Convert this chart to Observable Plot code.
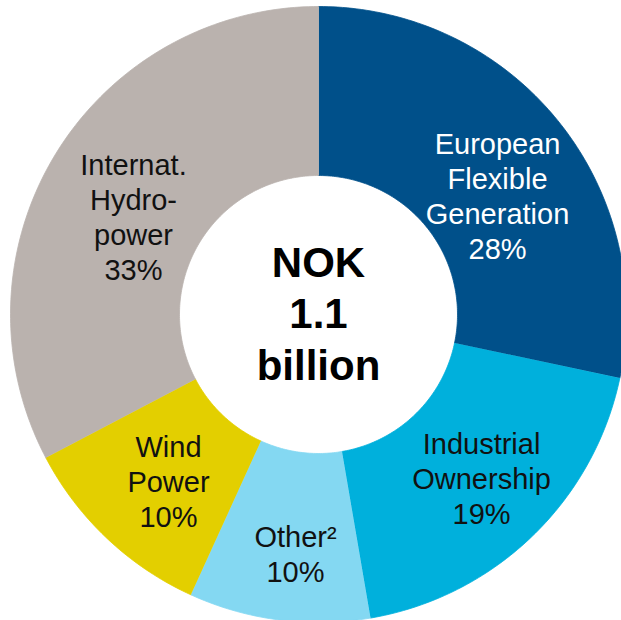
<!DOCTYPE html>
<html>
<head>
<meta charset="utf-8">
<script src="https://cdn.jsdelivr.net/npm/d3@7"></script>
<script src="https://cdn.jsdelivr.net/npm/@observablehq/plot@0.6"></script>
<style>
  html, body { margin: 0; padding: 0; background: #fff; }
  #chart svg { display: block; }
</style>
</head>
<body>
<div id="chart"></div>
<script>
// ---- data ----
const categories = ["European\nFlexible\nGeneration", "Industrial\nOwnership", "Other²", "Wind\nPower", "Internat.\nHydro-\npower"];
const shares = [28.3, 19.0, 9.5, 10.5, 32.7];      // slice sizes as drawn
const shareLabels = [28, 19, 10, 10, 33];         // percentages as printed
const sliceColors = ["#00508A", "#00B0DC", "#84D8F2", "#E3CF00", "#BAB2AE"];
const labelColors = ["#ffffff", "#111111", "#111111", "#111111", "#111111"];
const centerText = "NOK\n1.1\nbillion";

// ---- layout ----
const W = 621, H = 620;
const cx = 318, cy = 314, R = 308, rIn = 139;
const inner = rIn / R;
// per-label nudges (pixels) from slice centroid
const nudges = [[5.5, 21.5], [8, 2.6], [5.7, 17.4], [3.5, 3.5], [6.3, 17.1]];

const total = d3.sum(shares);
let acc = 0;
const slices = shares.map((v, i) => {
  const a0 = acc / total * 2 * Math.PI;
  acc += v;
  const a1 = acc / total * 2 * Math.PI;
  return {i, a0, a1, v};
});

const arcPts = [];
for (const s of slices) {
  const n = Math.max(8, Math.ceil((s.a1 - s.a0) / (2 * Math.PI) * 400));
  for (let k = 0; k <= n; k++) {
    const a = s.a0 + (s.a1 - s.a0) * k / n;
    arcPts.push({key: s.i, x: Math.sin(a), y: Math.cos(a), color: sliceColors[s.i]});
  }
  for (let k = n; k >= 0; k--) {
    const a = s.a0 + (s.a1 - s.a0) * k / n;
    arcPts.push({key: s.i, x: inner * Math.sin(a), y: inner * Math.cos(a), color: sliceColors[s.i]});
  }
}

const rm = (1 + inner) / 2;
const labels = slices.map(s => {
  const am = (s.a0 + s.a1) / 2;
  return {
    x: rm * Math.sin(am) + nudges[s.i][0] / R,
    y: rm * Math.cos(am) - nudges[s.i][1] / R,
    text: categories[s.i] + "\n" + shareLabels[s.i] + "%",
    fill: labelColors[s.i]
  };
});

const chart = Plot.plot({
  width: W,
  height: H,
  margin: 0,
  style: {fontFamily: "Arial, 'Liberation Sans', sans-serif", background: "#fff"},
  x: {domain: [-cx / R, (W - cx) / R], range: [0, W], axis: null},
  y: {domain: [(cy - H) / R, cy / R], range: [H, 0], axis: null},
  color: {type: "identity"},
  marks: [
    Plot.line(arcPts, {x: "x", y: "y", z: "key", fill: "color", stroke: "color", strokeWidth: 0.8, curve: "linear"}),
    Plot.text(labels, {x: "x", y: "y", text: "text", fill: "fill", fontSize: 29, lineHeight: 1.21, lineAnchor: "middle", textAnchor: "middle"}),
    Plot.text([centerText], {x: () => 0, y: () => 2.5 / R, text: d => d, fill: "#000", fontSize: 42, fontWeight: "bold", lineHeight: 1.22, lineAnchor: "middle", textAnchor: "middle"})
  ]
});
document.getElementById("chart").appendChild(chart);
</script>
</body>
</html>
